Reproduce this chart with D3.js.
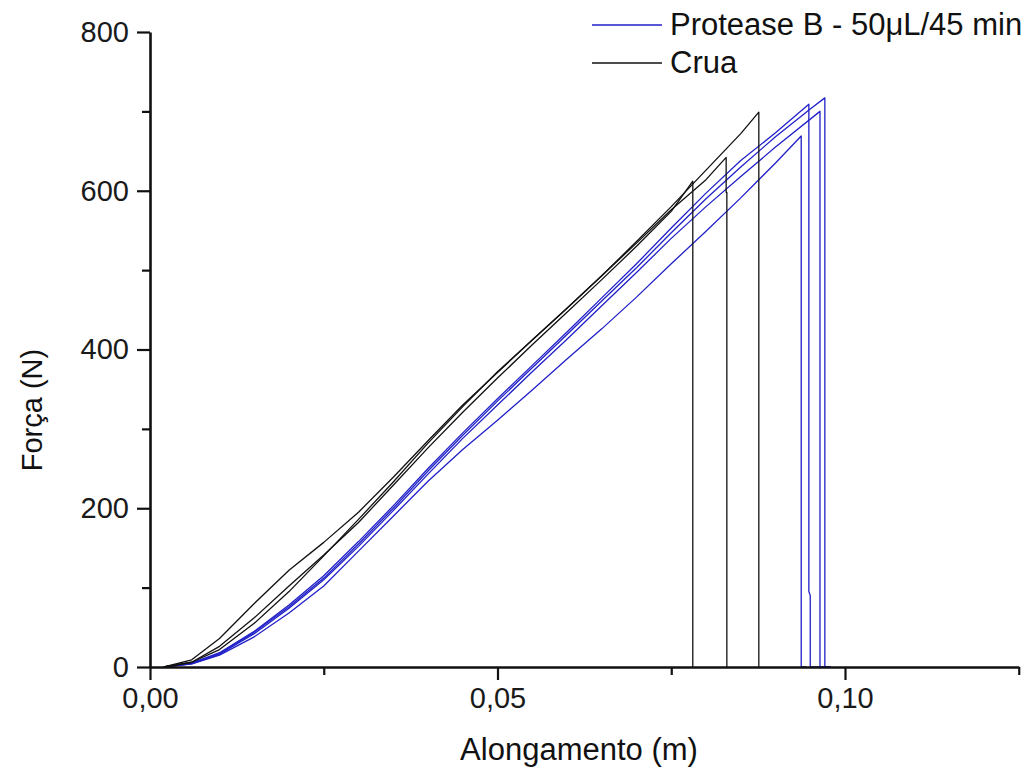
<!DOCTYPE html>
<html>
<head>
<meta charset="utf-8">
<script src="https://cdn.jsdelivr.net/npm/d3@7"></script>
<style>
    body { margin: 0; background: #fff; }
    svg { display: block; font-family: "Liberation Sans", Arial, sans-serif; }
</style>
</head>
<body>
<div id="chart"></div>
<script>
// Force x Alongamento curves: [alongamento (m), força (N)]
const cruaA = [[0.002, 0], [0.006, 6], [0.01, 22], [0.015, 55], [0.02, 95], [0.025, 140], [0.03, 186],
    [0.035, 233], [0.04, 282], [0.045, 328], [0.05, 372], [0.055, 412], [0.06, 452], [0.065, 493],
    [0.07, 536], [0.075, 580], [0.08, 626], [0.085, 672], [0.0876, 699], [0.0876, 0]];
const cruaB = [[0.002, 0], [0.006, 9], [0.01, 36], [0.015, 80], [0.02, 122], [0.025, 157], [0.03, 195],
    [0.035, 239], [0.04, 285], [0.045, 330], [0.05, 371], [0.055, 412], [0.06, 452], [0.065, 493],
    [0.07, 534], [0.075, 576], [0.08, 614], [0.0829, 642], [0.0829, 598], [0.083, 598], [0.083, 0]];
const cruaC = [[0.002, 0], [0.006, 6], [0.01, 26], [0.015, 62], [0.02, 102], [0.025, 141], [0.03, 182],
    [0.035, 229], [0.04, 276], [0.045, 321], [0.05, 364], [0.055, 406], [0.06, 447], [0.065, 488],
    [0.07, 530], [0.075, 574], [0.0781, 612], [0.0781, 0]];

const protD = [[0.002, 0], [0.006, 4], [0.01, 15], [0.015, 38], [0.02, 68], [0.025, 102], [0.03, 146],
    [0.035, 190], [0.04, 234], [0.045, 274], [0.05, 311], [0.055, 349], [0.06, 388], [0.065, 426],
    [0.07, 466], [0.075, 508], [0.08, 549], [0.085, 591], [0.09, 635], [0.0937, 669], [0.0937, 0], [0.0945, 0]];
const protE = [[0.002, 0], [0.006, 5], [0.01, 18], [0.015, 45], [0.02, 78], [0.025, 115], [0.03, 158],
    [0.035, 203], [0.04, 250], [0.045, 295], [0.05, 338], [0.055, 380], [0.06, 422], [0.065, 465],
    [0.07, 508], [0.075, 553], [0.08, 597], [0.085, 638], [0.09, 673], [0.0948, 709], [0.0948, 95],
    [0.0950, 90], [0.0950, 0], [0.0975, 0]];
const protF = [[0.002, 0], [0.006, 4], [0.01, 16], [0.015, 42], [0.02, 74], [0.025, 110], [0.03, 152],
    [0.035, 197], [0.04, 243], [0.045, 288], [0.05, 330], [0.055, 372], [0.06, 413], [0.065, 455],
    [0.07, 497], [0.075, 540], [0.08, 580], [0.085, 618], [0.09, 655], [0.0964, 700], [0.0964, 0], [0.0978, 0]];
const protG = [[0.002, 0], [0.006, 5], [0.01, 17], [0.015, 44], [0.02, 76], [0.025, 112], [0.03, 155],
    [0.035, 200], [0.04, 247], [0.045, 292], [0.05, 335], [0.055, 377], [0.06, 419], [0.065, 461],
    [0.07, 503], [0.075, 547], [0.08, 590], [0.085, 630], [0.09, 668], [0.095, 703], [0.0971, 717],
    [0.0971, 0], [0.098, 0]];

const seriesNames = ["Protease B - 50\u03BCL/45 min", "Crua"];
const xTicks = [0, 0.05, 0.10];
const xMinor = [0.025, 0.075, 0.125];
const yTicks = [0, 200, 400, 600, 800];
const yMinor = [100, 300, 500, 700];

const width = 1034, height = 775;
const margin = { top: 32, left: 150, bottom: 108 };
const plotRight = 1018.75;

const svg = d3.select("#chart").append("svg")
    .attr("width", width)
    .attr("height", height);

svg.append("rect").attr("width", width).attr("height", height).attr("fill", "#fff");

const x = d3.scaleLinear().domain([0, 0.125]).range([margin.left, plotRight]);
const y = d3.scaleLinear().domain([0, 800]).range([height - margin.bottom, margin.top]);

const blue = "#2020c8";
const black = "#111";

// -- curves --
const line = d3.line().x(d => x(d[0])).y(d => y(d[1]));
const curves = [
    { data: protD, color: blue }, { data: protE, color: blue },
    { data: protF, color: blue }, { data: protG, color: blue },
    { data: cruaC, color: black }, { data: cruaB, color: black }, { data: cruaA, color: black }
];
svg.append("g").selectAll("path")
    .data(curves)
    .join("path")
    .attr("d", d => line(d.data))
    .attr("fill", "none")
    .attr("stroke", d => d.color)
    .attr("stroke-width", 1.3)
    .attr("stroke-linejoin", "round");

// -- axes --
const fmt = d => d3.format(".2f")(d).replace(".", ",");

const xAxis = svg.append("g")
    .attr("transform", `translate(0,${y(0)})`)
    .call(d3.axisBottom(x).tickValues(xTicks).tickFormat(fmt).tickSize(13).tickSizeOuter(0).tickPadding(7));
xAxis.append("g")
    .call(d3.axisBottom(x).tickValues(xMinor).tickFormat("").tickSize(8).tickSizeOuter(0))
    .select(".domain").remove();

const yAxis = svg.append("g")
    .attr("transform", `translate(${x(0)},0)`)
    .call(d3.axisLeft(y).tickValues(yTicks).tickFormat(d3.format("d")).tickSize(13).tickSizeOuter(0).tickPadding(8));
yAxis.append("g")
    .call(d3.axisLeft(y).tickValues(yMinor).tickFormat("").tickSize(8).tickSizeOuter(0))
    .select(".domain").remove();

svg.selectAll(".domain").attr("stroke", black).attr("stroke-width", 2.6);
svg.selectAll(".tick line").attr("stroke", black).attr("stroke-width", 2.2);
svg.selectAll(".tick text")
    .attr("fill", "#1a1a1a")
    .style("font-size", "29px");

// -- axis titles --
svg.append("text")
    .attr("x", 579)
    .attr("y", 760)
    .attr("text-anchor", "middle")
    .attr("fill", "#111")
    .style("font-size", "31px")
    .text("Alongamento (m)");

svg.append("text")
    .attr("transform", "translate(42,410) rotate(-90)")
    .attr("text-anchor", "middle")
    .attr("fill", "#111")
    .style("font-size", "29px")
    .text("Força (N)");

// -- legend --
const legend = svg.append("g").selectAll("g")
    .data(seriesNames)
    .join("g")
    .attr("transform", (d, i) => `translate(592,${25 + i * 38})`);
legend.append("line")
    .attr("x1", 0).attr("x2", 70)
    .attr("stroke", (d, i) => i === 0 ? blue : black)
    .attr("stroke-width", 1.5);
legend.append("text")
    .attr("x", 78)
    .attr("y", 10)
    .attr("fill", "#111")
    .style("font-size", "31px")
    .text(d => d);
</script>
</body>
</html>
